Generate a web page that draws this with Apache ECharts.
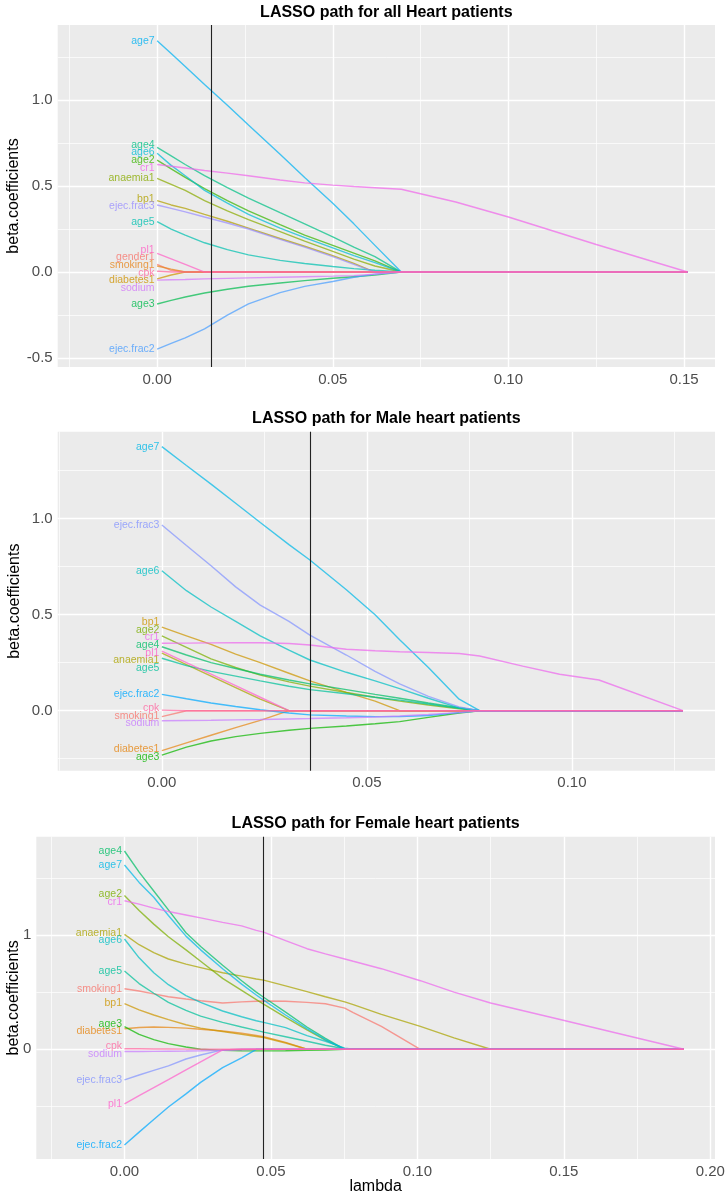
<!DOCTYPE html>
<html><head><meta charset="utf-8">
<script src="https://cdn.jsdelivr.net/npm/echarts@6/dist/echarts.min.js"></script>
<style>html,body{margin:0;padding:0;background:#fff}#c{width:728px;height:1199px}</style>
</head><body><div id="c"></div>
<script>
// ---------------- DATA ----------------
const titles = ['LASSO path for all Heart patients', 'LASSO path for Male heart patients', 'LASSO path for Female heart patients'];

// Panel 1: all patients
const allLambda = [0, 0.004, 0.008, 0.0135, 0.02, 0.026, 0.035, 0.042, 0.05, 0.056, 0.062, 0.0695, 0.085, 0.1, 0.125, 0.151];
const allVars = ['gender1','smoking1','diabetes1','bp1','anaemia1','age2','age3','age4','age5','age6','age7','ejec.frac2','ejec.frac3','sodium','cr1','pl1','cpk'];
const allBeta = [
  [0.045, 0.01, 0, 0, 0, 0, 0, 0, 0, 0, 0, 0, 0, 0, 0, 0],
  [0.035, 0.017, 0, 0, 0, 0, 0, 0, 0, 0, 0, 0, 0, 0, 0, 0],
  [-0.04, -0.017, 0, 0, 0, 0, 0, 0, 0, 0, 0, 0, 0, 0, 0, 0],
  [0.415, 0.39, 0.37, 0.335, 0.295, 0.255, 0.195, 0.15, 0.095, 0.05, 0, 0, 0, 0, 0, 0],
  [0.545, 0.51, 0.475, 0.415, 0.355, 0.305, 0.235, 0.18, 0.12, 0.075, 0.035, 0, 0, 0, 0, 0],
  [0.65, 0.6, 0.55, 0.485, 0.415, 0.355, 0.275, 0.215, 0.155, 0.11, 0.065, 0, 0, 0, 0, 0],
  [-0.186, -0.165, -0.145, -0.122, -0.1, -0.083, -0.064, -0.05, -0.036, -0.027, -0.018, 0, 0, 0, 0, 0],
  [0.725, 0.675, 0.625, 0.56, 0.49, 0.43, 0.345, 0.28, 0.205, 0.145, 0.09, 0, 0, 0, 0, 0],
  [0.293, 0.25, 0.215, 0.17, 0.13, 0.1, 0.068, 0.05, 0.032, 0.02, 0.01, 0, 0, 0, 0, 0],
  [0.69, 0.62, 0.56, 0.475, 0.4, 0.335, 0.255, 0.2, 0.14, 0.095, 0.055, 0, 0, 0, 0, 0],
  [1.345, 1.27, 1.195, 1.09, 0.97, 0.855, 0.685, 0.55, 0.4, 0.28, 0.155, 0, 0, 0, 0, 0],
  [-0.448, -0.415, -0.383, -0.33, -0.25, -0.185, -0.12, -0.083, -0.055, -0.03, -0.012, 0, 0, 0, 0, 0],
  [0.39, 0.37, 0.35, 0.32, 0.285, 0.25, 0.19, 0.145, 0.09, 0.045, 0, 0, 0, 0, 0, 0],
  [-0.047, -0.045, -0.043, -0.04, -0.037, -0.034, -0.03, -0.027, -0.024, -0.021, -0.012, 0, 0, 0, 0, 0],
  [0.625, 0.615, 0.605, 0.59, 0.575, 0.56, 0.535, 0.518, 0.505, 0.497, 0.49, 0.481, 0.407, 0.32, 0.16, 0],
  [0.109, 0.077, 0.045, 0, 0, 0, 0, 0, 0, 0, 0, 0, 0, 0, 0, 0],
  [0.005, 0, 0, 0, 0, 0, 0, 0, 0, 0, 0, 0, 0, 0, 0, 0]
];
const allLambdaMin = 0.0153;
const allXTicks = [0, 0.05, 0.10, 0.15];
const allXMinor = [-0.025, 0.025, 0.075, 0.125];
const allYTicks = [-0.5, 0, 0.5, 1.0];
const allYMinor = [-0.25, 0.25, 0.75, 1.25];

// Panel 2: male patients
const maleLambda = [0, 0.006, 0.012, 0.018, 0.024, 0.031, 0.0361, 0.045, 0.052, 0.058, 0.065, 0.0725, 0.0775, 0.088, 0.097, 0.1066, 0.1271];
const maleVars = ['smoking1','diabetes1','bp1','anaemia1','age2','age3','age4','age5','age6','age7','ejec.frac2','ejec.frac3','sodium','cr1','pl1','cpk'];
const maleBeta = [
  [-0.031, 0, 0, 0, 0, 0, 0, 0, 0, 0, 0, 0, 0, 0, 0, 0, 0],
  [-0.208, -0.168, -0.128, -0.088, -0.05, 0, 0, 0, 0, 0, 0, 0, 0, 0, 0, 0, 0],
  [0.435, 0.39, 0.345, 0.295, 0.25, 0.195, 0.155, 0.095, 0.05, 0, 0, 0, 0, 0, 0, 0, 0],
  [0.30, 0.24, 0.18, 0.12, 0.06, 0, 0, 0, 0, 0, 0, 0, 0, 0, 0, 0, 0],
  [0.39, 0.33, 0.27, 0.225, 0.185, 0.15, 0.128, 0.095, 0.07, 0.05, 0.03, 0.01, 0, 0, 0, 0, 0],
  [-0.231, -0.19, -0.158, -0.135, -0.118, -0.102, -0.092, -0.08, -0.068, -0.057, -0.035, -0.012, 0, 0, 0, 0, 0],
  [0.333, 0.29, 0.25, 0.22, 0.19, 0.16, 0.14, 0.11, 0.085, 0.065, 0.04, 0.015, 0, 0, 0, 0, 0],
  [0.273, 0.235, 0.205, 0.18, 0.155, 0.127, 0.11, 0.088, 0.07, 0.055, 0.035, 0.012, 0, 0, 0, 0, 0],
  [0.729, 0.625, 0.54, 0.465, 0.39, 0.315, 0.264, 0.2, 0.155, 0.115, 0.065, 0.015, 0, 0, 0, 0, 0],
  [1.375, 1.277, 1.18, 1.08, 0.98, 0.865, 0.785, 0.63, 0.5, 0.37, 0.225, 0.06, 0, 0, 0, 0, 0],
  [0.085, 0.062, 0.04, 0.022, 0.005, -0.012, -0.022, -0.028, -0.031, -0.031, -0.025, -0.01, 0, 0, 0, 0, 0],
  [0.967, 0.86, 0.755, 0.645, 0.55, 0.465, 0.394, 0.29, 0.205, 0.14, 0.075, 0.02, 0, 0, 0, 0, 0],
  [-0.052, -0.051, -0.05, -0.048, -0.046, -0.043, -0.041, -0.037, -0.033, -0.028, -0.02, -0.01, 0, 0, 0, 0, 0],
  [0.351, 0.352, 0.353, 0.354, 0.354, 0.35, 0.342, 0.32, 0.312, 0.307, 0.303, 0.298, 0.285, 0.232, 0.19, 0.16, 0],
  [0.31, 0.25, 0.19, 0.13, 0.07, 0, 0, 0, 0, 0, 0, 0, 0, 0, 0, 0, 0],
  [0.003, 0, 0, 0, 0, 0, 0, 0, 0, 0, 0, 0, 0, 0, 0, 0, 0]
];
const maleLambdaMin = 0.0362;
const maleXTicks = [0, 0.05, 0.10];
const maleXMinor = [-0.025, 0.025, 0.075, 0.125];
const maleYTicks = [0, 0.5, 1.0];
const maleYMinor = [-0.25, 0.25, 0.75, 1.25];

// Panel 3: female patients
const femaleLambda = [0, 0.005, 0.01, 0.015, 0.021, 0.026, 0.0335, 0.04, 0.045, 0.0475, 0.055, 0.0623, 0.0686, 0.0752, 0.0781, 0.0877, 0.101, 0.1125, 0.125, 0.148, 0.191];
const femaleVars = ['smoking1','diabetes1','bp1','anaemia1','age2','age3','age4','age5','age6','age7','ejec.frac2','ejec.frac3','sodium','cr1','pl1','cpk'];
const femaleBeta = [
  [0.53, 0.51, 0.485, 0.46, 0.44, 0.425, 0.405, 0.415, 0.42, 0.422, 0.42, 0.41, 0.398, 0.36, 0.32, 0.2, 0, 0, 0, 0, 0],
  [0.18, 0.19, 0.195, 0.192, 0.185, 0.175, 0.16, 0.14, 0.12, 0.11, 0.06, 0, 0, 0, 0, 0, 0, 0, 0, 0, 0],
  [0.4, 0.345, 0.3, 0.26, 0.215, 0.185, 0.155, 0.13, 0.112, 0.103, 0.055, 0, 0, 0, 0, 0, 0, 0, 0, 0, 0],
  [1.005, 0.915, 0.845, 0.79, 0.745, 0.715, 0.67, 0.64, 0.615, 0.605, 0.555, 0.505, 0.46, 0.415, 0.39, 0.305, 0.2, 0.1, 0, 0, 0],
  [1.345, 1.215, 1.095, 0.985, 0.87, 0.77, 0.62, 0.515, 0.435, 0.395, 0.28, 0.17, 0.08, 0, 0, 0, 0, 0, 0, 0, 0],
  [0.198, 0.13, 0.085, 0.05, 0.02, 0, -0.01, -0.013, -0.014, -0.014, -0.013, -0.01, -0.006, 0, 0, 0, 0, 0, 0, 0, 0],
  [1.735, 1.55, 1.385, 1.22, 1.02, 0.9, 0.735, 0.6, 0.5, 0.455, 0.325, 0.195, 0.095, 0, 0, 0, 0, 0, 0, 0, 0],
  [0.685, 0.575, 0.49, 0.41, 0.34, 0.29, 0.235, 0.195, 0.165, 0.15, 0.11, 0.07, 0.035, 0.005, 0, 0, 0, 0, 0, 0, 0],
  [0.965, 0.8, 0.67, 0.565, 0.47, 0.41, 0.335, 0.285, 0.25, 0.235, 0.19, 0.12, 0.07, 0.01, 0, 0, 0, 0, 0, 0, 0],
  [1.612, 1.46, 1.33, 1.17, 0.99, 0.87, 0.705, 0.57, 0.475, 0.43, 0.3, 0.18, 0.085, 0, 0, 0, 0, 0, 0, 0, 0],
  [-0.837, -0.725, -0.615, -0.505, -0.39, -0.29, -0.16, -0.075, 0, 0, 0, 0, 0, 0, 0, 0, 0, 0, 0, 0, 0],
  [-0.268, -0.225, -0.185, -0.145, -0.085, -0.05, -0.005, 0, 0, 0, 0, 0, 0, 0, 0, 0, 0, 0, 0, 0, 0],
  [-0.02, -0.019, -0.018, -0.017, -0.015, -0.013, -0.009, -0.004, 0, 0, 0, 0, 0, 0, 0, 0, 0, 0, 0, 0, 0],
  [1.30, 1.27, 1.235, 1.205, 1.175, 1.15, 1.11, 1.08, 1.04, 1.025, 0.95, 0.88, 0.835, 0.79, 0.77, 0.705, 0.6, 0.5, 0.405, 0.265, 0],
  [-0.478, -0.405, -0.335, -0.265, -0.18, -0.11, -0.005, 0, 0, 0, 0, 0, 0, 0, 0, 0, 0, 0, 0, 0, 0],
  [0.005, 0.004, 0.003, 0.002, 0.001, 0, 0, 0, 0, 0, 0, 0, 0, 0, 0, 0, 0, 0, 0, 0, 0]
];
const femaleLambdaMin = 0.0475;
const femaleXTicks = [0, 0.05, 0.10, 0.15, 0.20];
const femaleXMinor = [-0.025, 0.025, 0.075, 0.125, 0.175];
const femaleYTicks = [0, 1];
const femaleYMinor = [-0.5, 0.5, 1.5];

// ggplot default hue palettes (styles)
const allColors = ['#F8766D','#E7861B','#D09400','#B2A000','#8AAB00','#39B600','#00BB4E','#00C085','#00C0B0','#00BDD5','#00B2F2','#4A9EFF','#9A8EFF','#D276F9','#F066EA','#FF61C6','#FF689E'];
const sexColors = ['#F8766D','#E68613','#CD9600','#ABA300','#7CAE00','#0CB702','#00BE67','#00C19A','#00BFC4','#00B8E7','#00A9FF','#8494FF','#C77CFF','#ED68ED','#FF61CC','#FF68A1'];

// ---------------- LAYOUT ----------------
const FONT = "'Liberation Sans', Arial, Helvetica, sans-serif";
const panels = [
  {lambda: allLambda, vars: allVars, beta: allBeta, colors: allColors, vline: allLambdaMin,
   xT: allXTicks, xM: allXMinor, yT: allYTicks, yM: allYMinor, yDec: 1,
   g: [57.7, 25, 657.3, 342], xr: [-0.0283, 0.1588], yr: [-0.552, 1.436], titleTop: 5, nameGap: 36, xName: ''},
  {lambda: maleLambda, vars: maleVars, beta: maleBeta, colors: sexColors, vline: maleLambdaMin,
   xT: maleXTicks, xM: maleXMinor, yT: maleYTicks, yM: maleYMinor, yDec: 1,
   g: [57.7, 431.7, 657.3, 339], xr: [-0.0254, 0.1349], yr: [-0.3125, 1.453], titleTop: 411, nameGap: 35, xName: ''},
  {lambda: femaleLambda, vars: femaleVars, beta: femaleBeta, colors: sexColors, vline: femaleLambdaMin,
   xT: femaleXTicks, xM: femaleXMinor, yT: femaleYTicks, yM: femaleYMinor, yDec: 0,
   g: [36.3, 836.7, 678.7, 322.3], xr: [-0.0301, 0.2016], yr: [-0.96, 1.86], titleTop: 816, nameGap: 14.5, xName: 'lambda'}
];

const option = {animation: false, backgroundColor: '#ffffff', title: [], grid: [], xAxis: [], yAxis: [], series: []};
const labelSeriesIdx = [];

panels.forEach((p, k) => {
  option.grid.push({left: p.g[0], top: p.g[1], width: p.g[2], height: p.g[3], show: true,
    backgroundColor: '#EBEBEB', borderWidth: 0, containLabel: false, outerBoundsMode: 'none'});
  option.title.push({text: titles[k], left: p.g[0] + p.g[2] / 2, top: p.titleTop, textAlign: 'center', padding: 0,
    textStyle: {fontFamily: FONT, fontWeight: 'bold', fontSize: 16, color: '#000'}});
  option.xAxis.push({type: 'value', gridIndex: k, min: p.xr[0], max: p.xr[1],
    axisLine: {show: false}, splitLine: {show: false},
    axisTick: {show: true, customValues: p.xT, length: 3, lineStyle: {color: '#333', width: 1}},
    axisLabel: {customValues: p.xT, formatter: v => Number(v).toFixed(2), fontSize: 15, color: '#4D4D4D', margin: 5, fontFamily: FONT},
    name: p.xName, nameLocation: 'middle', nameGap: 20, nameMoveOverlap: false,
    nameTextStyle: {fontFamily: FONT, fontSize: 16, color: '#000'}});
  option.yAxis.push({type: 'value', gridIndex: k, min: p.yr[0], max: p.yr[1],
    axisLine: {show: false}, splitLine: {show: false},
    axisTick: {show: true, customValues: p.yT, length: 3, lineStyle: {color: '#333', width: 1}},
    axisLabel: {customValues: p.yT, formatter: v => Number(v).toFixed(p.yDec), fontSize: 15, color: '#4D4D4D', margin: 5, fontFamily: FONT},
    name: 'beta.coefficients', nameLocation: 'middle', nameRotate: 90, nameGap: p.nameGap, nameMoveOverlap: false,
    nameTextStyle: {fontFamily: FONT, fontSize: 16, color: '#000'}});

  // background grid lines (white, major + minor)
  const gl = [];
  p.xT.forEach(v => gl.push({xAxis: v, lineStyle: {color: '#fff', width: 1.4, type: 'solid'}}));
  p.xM.forEach(v => gl.push({xAxis: v, lineStyle: {color: '#fff', width: 0.7, type: 'solid'}}));
  p.yT.forEach(v => gl.push({yAxis: v, lineStyle: {color: '#fff', width: 1.4, type: 'solid'}}));
  p.yM.forEach(v => gl.push({yAxis: v, lineStyle: {color: '#fff', width: 0.7, type: 'solid'}}));
  option.series.push({type: 'line', xAxisIndex: k, yAxisIndex: k, silent: true, z: 1,
    data: [[p.xr[0], p.yr[0]]], symbol: 'none', lineStyle: {opacity: 0},
    markLine: {silent: true, z: 1, precision: 6, symbol: 'none', label: {show: false}, animation: false, data: gl}});

  // coefficient paths
  p.vars.forEach((name, j) => {
    option.series.push({type: 'line', name: name, xAxisIndex: k, yAxisIndex: k, silent: true, z: 2,
      showSymbol: false, symbol: 'none',
      data: p.lambda.map((x, i) => [x, p.beta[j][i]]),
      lineStyle: {color: p.colors[j], width: 1.4, opacity: 0.72}, itemStyle: {color: p.colors[j]}});
  });

  // selected lambda vertical line
  option.series.push({type: 'line', xAxisIndex: k, yAxisIndex: k, silent: true, z: 3,
    data: [[p.xr[0], p.yr[0]]], symbol: 'none', lineStyle: {opacity: 0},
    markLine: {silent: true, z: 3, precision: 6, symbol: 'none', label: {show: false}, animation: false,
      data: [{xAxis: p.vline, lineStyle: {color: '#222', width: 1.1, type: 'solid'}}]}});

  // variable labels at lambda = 0
  labelSeriesIdx.push(option.series.length);
  option.series.push({type: 'scatter', xAxisIndex: k, yAxisIndex: k, silent: true, z: 4,
    symbolSize: 1, itemStyle: {color: 'rgba(0,0,0,0)'},
    data: p.vars.map((name, j) => ({name: name, value: [p.lambda[0], p.beta[j][0]],
      label: {show: true, position: 'left', distance: 2, formatter: '{b}', color: p.colors[j],
        opacity: 0.8, fontSize: 10.5, fontFamily: FONT, offset: [0, 0]}}))});
});

const chart = echarts.init(document.getElementById('c'), null, {renderer: 'canvas'});
chart.setOption(option);

// simple vertical repel of the labels (like ggrepel), computed from the library's own pixel scale
const MIN_GAP = 7.6;
panels.forEach((p, k) => {
  const items = p.vars.map((name, j) => {
    const y = chart.convertToPixel({gridIndex: k}, [p.lambda[0], p.beta[j][0]])[1];
    return {j: j, y: y, ny: y};
  });
  const sorted = items.slice().sort((a, b) => a.y - b.y);
  for (let iter = 0; iter < 400; iter++) {
    let moved = false;
    for (let i = 0; i < sorted.length - 1; i++) {
      const a = sorted[i], b = sorted[i + 1];
      const d = b.ny - a.ny;
      if (d < MIN_GAP - 0.01) { const s = (MIN_GAP - d) / 2; a.ny -= s; b.ny += s; moved = true; }
    }
    if (!moved) break;
  }
  const ser = option.series[labelSeriesIdx[k]];
  items.forEach(it => { ser.data[it.j].label.offset = [0, it.ny - it.y]; });
});
chart.setOption(option);
</script></body></html>
